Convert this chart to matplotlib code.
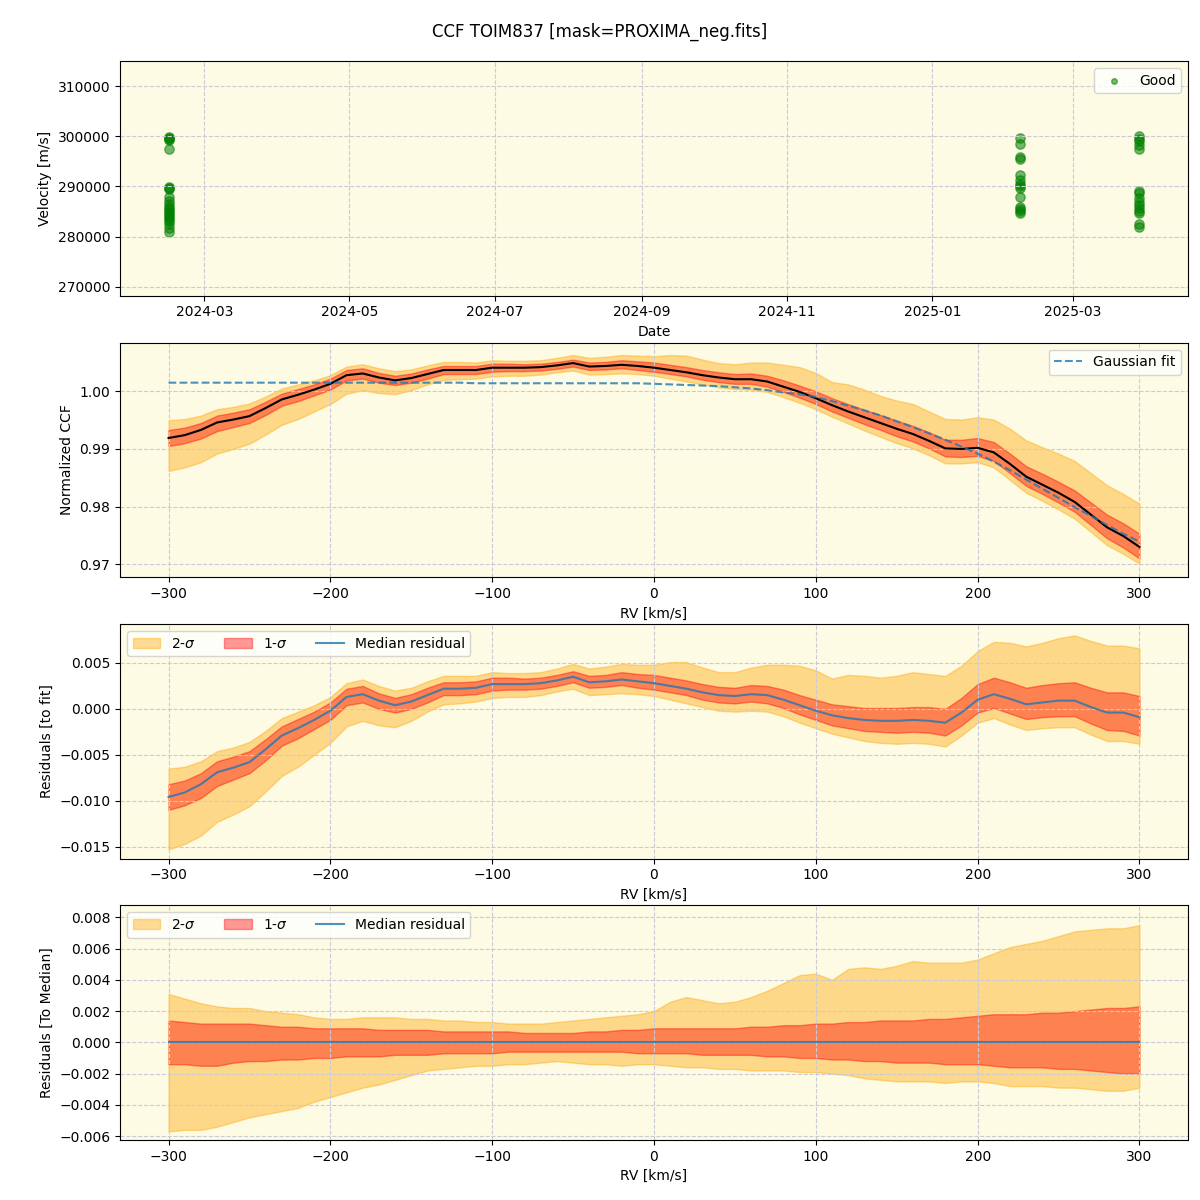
import numpy as np
import pandas as pd
import matplotlib
matplotlib.use("Agg")
import matplotlib.pyplot as plt

# --- velocity measurements (top panel) ---
dates_1 = ["2024-02-15"] * 22
vel_1 = [299900, 299700, 299500, 299300, 297500, 289800, 289700, 289500, 288000, 287200, 286500,
         286000, 285600, 285200, 284800, 284400, 284000, 283600, 283200, 282600, 281800, 281000]
dates_2 = ["2025-02-07"] * 14
vel_2 = [299600, 298500, 295800, 295500, 292200, 291200, 290400, 290000, 289700, 288000,
         286000, 285600, 285200, 284800]
dates_3 = ["2025-03-29"] * 15
vel_3 = [300000, 299500, 299000, 298200, 297400, 289000, 288700, 287800, 287000, 286400,
         285800, 285200, 284800, 282600, 282000]

# --- CCF data, RV grid every 10 km/s from -300 to 300 ---
rv = np.arange(-300, 301, 10)

gauss_fit = [1.0015, 1.0015, 1.0015, 1.0015, 1.0015, 1.0015, 1.0015, 1.0015, 1.0015, 1.0015,
             1.0015, 1.0015, 1.0015, 1.0015, 1.0015, 1.0015, 1.0015, 1.0015, 1.0015, 1.0014,
             1.0014, 1.0014, 1.0014, 1.0014, 1.0014, 1.0014, 1.0014, 1.0014, 1.0014, 1.0014,
             1.0013, 1.0012, 1.0011, 1.0010, 1.0009, 1.0007, 1.0005, 1.0002, 0.9998, 0.9995,
             0.9990, 0.9983, 0.9975, 0.9967, 0.9958, 0.9948, 0.9938, 0.9927, 0.9916, 0.9904,
             0.9892, 0.9878, 0.9863, 0.9847, 0.9831, 0.9815, 0.9799, 0.9784, 0.9768, 0.9753,
             0.9739]

# median residual to the fit
med_resid = [-0.0096, -0.0091, -0.0082, -0.0069, -0.0064, -0.0058, -0.0044, -0.0029, -0.0021, -0.0012,
             -0.0002, 0.0013, 0.0016, 0.0009, 0.0004, 0.0008, 0.0015, 0.0022, 0.0022, 0.0023,
             0.0027, 0.0027, 0.0027, 0.0028, 0.0031, 0.0035, 0.0029, 0.0030, 0.0032, 0.0030,
             0.0028, 0.0025, 0.0022, 0.0018, 0.0015, 0.0014, 0.0016, 0.0015, 0.0010, 0.0004,
             -0.0002, -0.0007, -0.0010, -0.0012, -0.0013, -0.0013, -0.0012, -0.0013, -0.0015, -0.0004,
             0.0010, 0.0016, 0.0011, 0.0005, 0.0007, 0.0009, 0.0009, 0.0002, -0.0004, -0.0004,
             -0.0009]

# band limits relative to the median
up2 = [0.0031, 0.0028, 0.0025, 0.0023, 0.0022, 0.0022, 0.0020, 0.0019, 0.0018, 0.0016,
       0.0015, 0.0015, 0.0016, 0.0016, 0.0016, 0.0015, 0.0015, 0.0014, 0.0014, 0.0013,
       0.0013, 0.0012, 0.0012, 0.0012, 0.0013, 0.0014, 0.0015, 0.0016, 0.0017, 0.0018,
       0.0020, 0.0026, 0.0029, 0.0027, 0.0025, 0.0026, 0.0029, 0.0033, 0.0038, 0.0043,
       0.0044, 0.0040, 0.0047, 0.0048, 0.0047, 0.0049, 0.0052, 0.0051, 0.0051, 0.0051,
       0.0053, 0.0057, 0.0061, 0.0063, 0.0065, 0.0068, 0.0071, 0.0072, 0.0073, 0.0073,
       0.0075]
up1 = [0.0014, 0.0013, 0.0012, 0.0012, 0.0012, 0.0012, 0.0011, 0.0010, 0.0010, 0.0009,
       0.0009, 0.0009, 0.0009, 0.0008, 0.0008, 0.0008, 0.0008, 0.0007, 0.0007, 0.0007,
       0.0007, 0.0007, 0.0006, 0.0006, 0.0006, 0.0006, 0.0007, 0.0007, 0.0008, 0.0008,
       0.0009, 0.0009, 0.0009, 0.0009, 0.0009, 0.0009, 0.0010, 0.0010, 0.0011, 0.0011,
       0.0012, 0.0012, 0.0013, 0.0013, 0.0014, 0.0014, 0.0014, 0.0015, 0.0015, 0.0016,
       0.0017, 0.0018, 0.0018, 0.0018, 0.0019, 0.0019, 0.0020, 0.0021, 0.0022, 0.0022,
       0.0023]
lo1 = [-0.0014, -0.0014, -0.0015, -0.0015, -0.0013, -0.0012, -0.0012, -0.0011, -0.0011, -0.0010,
       -0.0010, -0.0009, -0.0009, -0.0009, -0.0008, -0.0008, -0.0008, -0.0007, -0.0007, -0.0007,
       -0.0007, -0.0006, -0.0006, -0.0006, -0.0006, -0.0006, -0.0006, -0.0006, -0.0006, -0.0007,
       -0.0007, -0.0007, -0.0007, -0.0008, -0.0008, -0.0008, -0.0008, -0.0009, -0.0009, -0.0010,
       -0.0010, -0.0011, -0.0011, -0.0012, -0.0012, -0.0013, -0.0013, -0.0013, -0.0014, -0.0014,
       -0.0014, -0.0015, -0.0016, -0.0016, -0.0016, -0.0017, -0.0017, -0.0018, -0.0019, -0.0020,
       -0.0020]
lo2 = [-0.0057, -0.0056, -0.0056, -0.0054, -0.0051, -0.0048, -0.0046, -0.0044, -0.0042, -0.0038,
       -0.0035, -0.0032, -0.0029, -0.0027, -0.0024, -0.0021, -0.0018, -0.0017, -0.0016, -0.0015,
       -0.0015, -0.0014, -0.0014, -0.0013, -0.0012, -0.0013, -0.0014, -0.0014, -0.0015, -0.0014,
       -0.0014, -0.0015, -0.0016, -0.0016, -0.0017, -0.0017, -0.0018, -0.0018, -0.0018, -0.0019,
       -0.0019, -0.0020, -0.0021, -0.0023, -0.0024, -0.0025, -0.0025, -0.0025, -0.0026, -0.0025,
       -0.0025, -0.0026, -0.0028, -0.0028, -0.0028, -0.0029, -0.0029, -0.0030, -0.0031, -0.0031,
       -0.0029]

gauss_fit = np.array(gauss_fit)
med_resid = np.array(med_resid)
up2, up1, lo1, lo2 = map(np.array, (up2, up1, lo1, lo2))
ccf_med = gauss_fit + med_resid

bg = "#fdfbe4"
gridkw = dict(color="#c8cad8", linestyle="--", linewidth=0.8)

fig, axs = plt.subplots(4, 1, figsize=(12, 12), dpi=100)
fig.subplots_adjust(left=0.1, right=0.99, top=0.949, bottom=0.05, hspace=0.2)
fig.suptitle("CCF TOIM837 [mask=PROXIMA_neg.fits]", fontsize=12, y=0.981)

# velocity panel
ax = axs[0]
ax.set_facecolor(bg)
d = pd.to_datetime(dates_1 + dates_2 + dates_3)
v = vel_1 + vel_2 + vel_3
ax.scatter(d, v, s=45, color="green", alpha=0.55, label="Good")
ax.set_ylim(268200, 315000)
ax.set_xlabel("Date")
ax.set_ylabel("Velocity [m/s]")
ax.grid(True, **gridkw)
ax.legend(loc="upper right", markerscale=0.6)

# CCF panel
ax = axs[1]
ax.set_facecolor(bg)
ax.fill_between(rv, ccf_med + lo2, ccf_med + up2, color="orange", alpha=0.4)
ax.fill_between(rv, ccf_med + lo1, ccf_med + up1, color="red", alpha=0.4)
ax.plot(rv, ccf_med, color="black", lw=1.5)
ax.plot(rv, gauss_fit, "--", color="C0", alpha=0.8, lw=1.5, label="Gaussian fit")
ax.set_ylim(0.96776, 1.00845)
ax.set_xlabel("RV [km/s]")
ax.set_ylabel("Normalized CCF")
ax.grid(True, **gridkw)
ax.legend(loc="upper right")

# residual panels
for ax, base, ylab, ylim in [
    (axs[2], med_resid, "Residuals [to fit]", (-0.0163, 0.00924)),
    (axs[3], np.zeros_like(med_resid), "Residuals [To Median]", (-0.00625, 0.00876)),
]:
    ax.set_facecolor(bg)
    ax.fill_between(rv, base + lo2, base + up2, color="orange", alpha=0.4, label="2-$\\sigma$")
    ax.fill_between(rv, base + lo1, base + up1, color="red", alpha=0.4, label="1-$\\sigma$")
    ax.plot(rv, base, color="C0", alpha=0.8, lw=1.5, label="Median residual")
    ax.set_ylim(*ylim)
    ax.set_xlabel("RV [km/s]")
    ax.set_ylabel(ylab)
    ax.grid(True, **gridkw)
    ax.legend(loc="upper left", ncol=3)

for ax in axs[1:]:
    ax.set_xlim(-330, 330)

fig.savefig("out.png")
